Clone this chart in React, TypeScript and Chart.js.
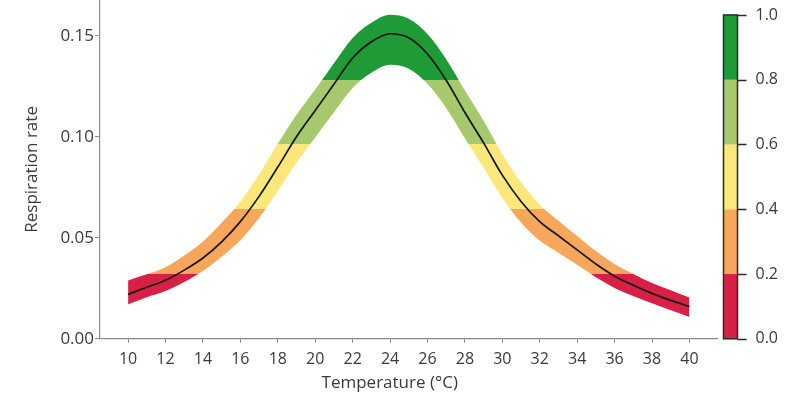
import React, { useEffect, useRef } from "react";
import { Chart, registerables } from "chart.js";

Chart.register(...registerables);

// ---- data ----
const temperature = [10, 11, 12, 13, 14, 15, 16, 17, 18, 19, 20, 21, 22, 23, 24, 25, 26, 27, 28, 29, 30, 31, 32, 33, 34, 35, 36, 37, 38, 39, 40];
const respirationRate = [0.022, 0.0255, 0.029, 0.034, 0.04, 0.048, 0.058, 0.0705, 0.085, 0.1, 0.113, 0.126, 0.139, 0.147, 0.151, 0.149, 0.141, 0.128, 0.112, 0.097, 0.081, 0.068, 0.058, 0.051, 0.044, 0.037, 0.031, 0.0265, 0.0225, 0.019, 0.016];
const upperBound = [0.0289, 0.0319, 0.0354, 0.0412, 0.0482, 0.0575, 0.068, 0.0815, 0.0965, 0.1109, 0.1234, 0.1364, 0.1489, 0.1564, 0.1604, 0.1584, 0.1509, 0.1384, 0.1229, 0.1079, 0.0914, 0.0774, 0.0664, 0.0584, 0.0509, 0.0434, 0.0370, 0.0321, 0.0276, 0.0240, 0.0204];
const lowerBound = [0.0171, 0.0206, 0.0236, 0.0281, 0.0336, 0.0406, 0.0488, 0.0598, 0.0732, 0.0872, 0.0997, 0.1122, 0.1242, 0.1317, 0.1357, 0.1337, 0.1262, 0.1142, 0.0992, 0.0847, 0.0697, 0.0576, 0.0486, 0.0426, 0.0366, 0.0305, 0.0252, 0.0212, 0.0176, 0.0141, 0.0108];

const xTicks = [10, 12, 14, 16, 18, 20, 22, 24, 26, 28, 30, 32, 34, 36, 38, 40];
const yTicks = [0, 0.05, 0.1, 0.15];
const colorbarTicks = [0, 0.2, 0.4, 0.6, 0.8, 1.0];
const colorbarColors = ["#d81f46", "#f6a75c", "#fce87a", "#a5c96c", "#1e9a37"];

const xTitle = "Temperature (°C)";
const yTitle = "Respiration rate";

const colorScaleMaxRate = 0.1603; // respiration rate shown as 1.0 on the colour bar
const xMin = 8.5;
const xMax = 41.5;
const yMax = 0.1677;

const FONT = "'Open Sans', sans-serif";
const TEXT = "#3a3a3a";
const AXIS = "#8c8c8c";

const colorbarPlugin = {
  id: "colorbar",
  afterDraw(chart: any) {
    const s = chart.scales.cb;
    if (!s) return;
    const ctx = chart.ctx;
    const x0 = s.left + 6;
    const w = 14;
    ctx.save();
    for (let i = 0; i < colorbarColors.length; i++) {
      const yTop = s.getPixelForValue(colorbarTicks[i + 1]);
      const yBot = s.getPixelForValue(colorbarTicks[i]);
      ctx.fillStyle = colorbarColors[i];
      ctx.fillRect(x0, yTop, w, yBot - yTop);
    }
    const top = s.getPixelForValue(colorbarTicks[colorbarTicks.length - 1]);
    const bot = s.getPixelForValue(colorbarTicks[0]);
    ctx.strokeStyle = "#2a2a2a";
    ctx.lineWidth = 1.5;
    ctx.strokeRect(x0, top, w, bot - top);
    ctx.beginPath();
    for (const t of colorbarTicks) {
      const py = Math.round(s.getPixelForValue(t)) + 0.5;
      ctx.moveTo(x0 + w, py);
      ctx.lineTo(x0 + w + 9, py);
    }
    ctx.lineWidth = 1.5;
    ctx.stroke();
    ctx.restore();
  },
};

// x-axis title, drawn slightly left of the plot centre as in the original figure
const xTitlePlugin = {
  id: "xTitle",
  afterDraw(chart: any) {
    const { ctx, chartArea } = chart;
    ctx.save();
    ctx.font = `17px ${FONT}`;
    ctx.fillStyle = TEXT;
    ctx.textAlign = "center";
    ctx.textBaseline = "middle";
    ctx.fillText(xTitle, (chartArea.left + chartArea.right) / 2 - 19, chart.height - 15);
    ctx.restore();
  },
};

function bandFill(context: any) {
  const chart = context.chart;
  const { ctx, chartArea, scales } = chart;
  if (!chartArea || !scales.y) return colorbarColors[0];
  const y = scales.y;
  const top = chartArea.top;
  const bottom = chartArea.bottom;
  const h = bottom - top;
  const g = ctx.createLinearGradient(0, bottom, 0, top);
  const clamp = (v: number) => Math.max(0, Math.min(1, v));
  const n = colorbarColors.length;
  for (let i = 0; i < n; i++) {
    const lo = colorbarTicks[i] * colorScaleMaxRate;
    const hi = colorbarTicks[i + 1] * colorScaleMaxRate;
    const f0 = i === 0 ? 0 : clamp((bottom - y.getPixelForValue(lo)) / h);
    const f1 = i === n - 1 ? 1 : clamp((bottom - y.getPixelForValue(hi)) / h);
    g.addColorStop(f0, colorbarColors[i]);
    g.addColorStop(f1, colorbarColors[i]);
  }
  return g;
}

export default function App() {
  const ref = useRef<HTMLCanvasElement>(null);

  useEffect(() => {
    document.body.style.margin = "0";
    const canvas = ref.current;
    if (!canvas) return;

    const chart = new Chart(canvas, {
      type: "line",
      data: {
        datasets: [
          {
            label: "Respiration rate",
            data: temperature.map((t, i) => ({ x: t, y: respirationRate[i] })),
            borderColor: "#141414",
            borderWidth: 1.7,
            pointRadius: 0,
            cubicInterpolationMode: "monotone",
            fill: false,
          },
          {
            label: "upper",
            data: temperature.map((t, i) => ({ x: t, y: upperBound[i] })),
            borderWidth: 0,
            borderColor: "rgba(0,0,0,0)",
            pointRadius: 0,
            cubicInterpolationMode: "monotone",
            backgroundColor: bandFill,
            fill: "+1",
          },
          {
            label: "lower",
            data: temperature.map((t, i) => ({ x: t, y: lowerBound[i] })),
            borderWidth: 0,
            borderColor: "rgba(0,0,0,0)",
            pointRadius: 0,
            cubicInterpolationMode: "monotone",
            fill: false,
          },
        ],
      },
      options: {
        responsive: false,
        devicePixelRatio: 1,
        animation: false,
        layout: { padding: { left: 0, right: 24, top: 0, bottom: 22 } },
        plugins: {
          legend: { display: false },
          tooltip: { enabled: false },
        },
        scales: {
          x: {
            type: "linear",
            min: xMin,
            max: xMax,
            afterBuildTicks: (s: any) => {
              s.ticks = xTicks.map((v) => ({ value: v }));
            },
            border: { color: AXIS, width: 1.2 },
            grid: { display: true, drawOnChartArea: false, drawTicks: true, tickLength: 4, color: AXIS },
            ticks: {
              autoSkip: false,
              maxRotation: 0,
              color: TEXT,
              padding: 7,
              font: { family: FONT, size: 16 },
              callback: (v: any) => String(v),
            },
            title: { display: false },
          },
          y: {
            type: "linear",
            min: 0,
            max: yMax,
            afterBuildTicks: (s: any) => {
              s.ticks = yTicks.map((v) => ({ value: v }));
            },
            afterFit: (s: any) => {
              s.paddingTop = 0;
              s.paddingBottom = 0;
            },
            border: { color: AXIS, width: 1.2 },
            grid: { display: true, drawOnChartArea: false, drawTicks: true, tickLength: 5, color: AXIS },
            ticks: {
              color: TEXT,
              padding: 1,
              font: { family: FONT, size: 17 },
              callback: (v: any) => Number(v).toFixed(2),
            },
            title: {
              display: true,
              text: yTitle,
              color: TEXT,
              font: { family: FONT, size: 17 },
              padding: { top: 22, bottom: 17 },
            },
          },
          cb: {
            type: "linear",
            position: "right",
            min: 0,
            max: yMax / colorScaleMaxRate,
            afterBuildTicks: (s: any) => {
              s.ticks = colorbarTicks.map((v) => ({ value: v }));
            },
            afterFit: (s: any) => {
              s.paddingTop = 0;
              s.paddingBottom = 0;
            },
            border: { display: false },
            grid: { display: false, drawTicks: false },
            ticks: {
              color: TEXT,
              padding: 38,
              font: { family: FONT, size: 16 },
              callback: (v: any) => Number(v).toFixed(1),
            },
          },
        },
      },
      plugins: [colorbarPlugin, xTitlePlugin],
    });

    return () => chart.destroy();
  }, []);

  return (
    <div style={{ width: 802, height: 398, position: "relative", overflow: "hidden", background: "#fff" }}>
      <canvas ref={ref} width={840} height={398} style={{ display: "block" }} />
    </div>
  );
}
